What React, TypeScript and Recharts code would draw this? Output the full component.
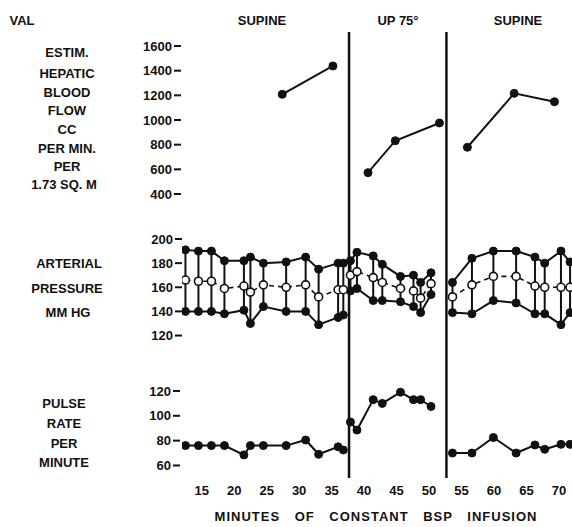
import { ComposedChart, Line, XAxis, YAxis, ReferenceLine, ErrorBar } from "recharts";

const FONT = '"Liberation Sans", Arial, sans-serif';
const INK = "#111";

// minutes of constant BSP infusion at each reading, one list per posture period
const supineMin = [12.5, 14.5, 16.5, 18.5, 21.5, 22.5, 24.5, 28, 31, 33, 36, 36.8];
const tiltMin = [37.9, 38.9, 41.4, 42.8, 45.6, 47.6, 48.7, 50.3];
const supine2Min = [53.6, 56.6, 59.9, 63.4, 66.3, 67.8, 70.3, 71.7];

// arterial pressure, mm Hg
const supineSys = [191, 190, 190, 182, 182, 185, 180, 181, 185, 175, 180, 180];
const supineMean = [166, 165, 165, 159, 161, 156, 162, 160, 162, 152, 158, 158];
const supineDia = [140, 140, 140, 138, 141, 130, 144, 140, 140, 129, 135, 137];
const tiltSys = [182, 189, 186, 179, 169, 170, 164, 172];
const tiltMean = [170, 173, 168, 164, 159, 157, 151, 163];
const tiltDia = [157, 159, 149, 149, 148, 144, 139, 154];
const supine2Sys = [164, 184, 190, 190, 185, 180, 190, 181];
const supine2Mean = [152, 162, 169, 169, 161, 160, 160, 160];
const supine2Dia = [139, 138, 149, 147, 138, 138, 129, 139];

// pulse rate per minute
const supinePulse = [76, 76, 76, 76, 68.5, 76, 76, 76, 80.5, 69, 75, 72.5];
const tiltPulse = [95, 88.5, 113, 110, 119, 113, 113, 107.5];
const supine2Pulse = [70, 70, 82.5, 70, 76.5, 73, 77, 77];

// estimated hepatic blood flow, cc per min per 1.73 sq. m
const flowMin1 = [27.4, 35.2];
const flow1 = [1208, 1438];
const flowMin2 = [40.6, 44.8, 51.6];
const flow2 = [573, 832, 976];
const flowMin3 = [55.9, 63.1, 69.3];
const flow3 = [779, 1216, 1148];

const tiltStart = 37.68;
const tiltEnd = 52.67;

const minuteTicks = [15, 20, 25, 30, 35, 40, 45, 50, 55, 60, 65, 70];
const flowTicks = [400, 600, 800, 1000, 1200, 1400, 1600];
const bpTicks = [120, 140, 160, 180, 200];
const pulseTicks = [60, 80, 100, 120];

const periodRows = (mins: number[], sys: number[], mean: number[], dia: number[], pulse: number[]) =>
  mins.map((t, i) => ({
    t,
    sys: sys[i],
    mean: mean[i],
    dia: dia[i],
    pulse: pulse[i],
    range: [mean[i] - dia[i], sys[i] - mean[i]],
  }));

const flowRows = (mins: number[], vals: number[]) => mins.map((t, i) => ({ t, flow: vals[i] }));

const periods = [
  periodRows(supineMin, supineSys, supineMean, supineDia, supinePulse),
  periodRows(tiltMin, tiltSys, tiltMean, tiltDia, tiltPulse),
  periodRows(supine2Min, supine2Sys, supine2Mean, supine2Dia, supine2Pulse),
];
const flows = [flowRows(flowMin1, flow1), flowRows(flowMin2, flow2), flowRows(flowMin3, flow3)];

const tickStyle = { fill: INK, fontSize: 13, fontWeight: 700, fontFamily: FONT };
const solidDot = { r: 4, fill: INK, stroke: INK, strokeWidth: 1 };

// open circle for mean pressure, drawn as its own element so it sits over the bar
const OpenDot = (p: { cx?: number; cy?: number; index?: number }) =>
  p.cx == null || p.cy == null ? null : (
    <circle key={p.index} cx={p.cx} cy={p.cy} r={4} fill="#fff" stroke={INK} strokeWidth={1.6} />
  );

const labels: [string, number, number][] = [
  ["VAL", 22, 20],
  ["SUPINE", 262, 20],
  ["UP 75°", 398, 20],
  ["SUPINE", 518, 20],
  ["ESTIM.", 67, 52],
  ["HEPATIC", 67, 73],
  ["BLOOD", 67, 92],
  ["FLOW", 67, 110],
  ["CC", 67, 129],
  ["PER MIN.", 67, 148],
  ["PER", 67, 166],
  ["1.73 SQ. M", 64, 184],
  ["ARTERIAL", 69, 263],
  ["PRESSURE", 67, 288],
  ["MM HG", 68, 312],
  ["PULSE", 64, 403],
  ["RATE", 64, 423],
  ["PER", 64, 443],
  ["MINUTE", 64, 462],
];

function yAxis(id: string, domain: [number, number], ticks: number[]) {
  return (
    <YAxis
      key={id}
      yAxisId={id}
      type="number"
      domain={domain}
      ticks={ticks}
      interval={0}
      allowDataOverflow
      width={1}
      axisLine={false}
      tickLine={{ stroke: INK, strokeWidth: 2 }}
      tickSize={7}
      tickMargin={2}
      tick={tickStyle}
    />
  );
}

function seriesLine(key: string, axis: string, rows: object[], dataKey: string) {
  return (
    <Line
      key={key}
      yAxisId={axis}
      data={rows}
      dataKey={dataKey}
      stroke={INK}
      strokeWidth={2}
      dot={solidDot}
      activeDot={false}
      isAnimationActive={false}
    />
  );
}

export default function App() {
  return (
    <div
      style={{
        position: "absolute",
        left: 0,
        top: 0,
        width: 572,
        height: 527,
        background: "#fff",
        fontFamily: FONT,
        color: INK,
      }}
    >
      <ComposedChart width={572} height={527} margin={{ top: 32, right: 0, bottom: 0, left: 179 }}>
        <XAxis
          dataKey="t"
          type="number"
          domain={[11.97, 72]}
          ticks={minuteTicks}
          interval={0}
          allowDataOverflow
          axisLine={false}
          tickLine={false}
          tickSize={6}
          tickMargin={2}
          height={49}
          tick={tickStyle}
        />
        {yAxis("flow", [-1902.7, 1713.5], flowTicks)}
        {yAxis("bp", [1.9, 371.6], bpTicks)}
        {yAxis("pulse", [49.9, 409.1], pulseTicks)}

        <ReferenceLine yAxisId="flow" x={tiltStart} stroke={INK} strokeWidth={2.5} />
        <ReferenceLine yAxisId="flow" x={tiltEnd} stroke={INK} strokeWidth={2.5} />

        {flows.map((rows, i) => seriesLine(`flow${i}`, "flow", rows, "flow"))}

        {/* systolic-to-diastolic bar at each reading */}
        {periods.map((rows, i) => (
          <Line
            key={`bar${i}`}
            yAxisId="bp"
            data={rows}
            dataKey="mean"
            stroke="none"
            dot={false}
            activeDot={false}
            isAnimationActive={false}
          >
            <ErrorBar dataKey="range" direction="y" width={0} stroke={INK} strokeWidth={2} />
          </Line>
        ))}

        {periods.map((rows, i) => seriesLine(`sys${i}`, "bp", rows, "sys"))}
        {periods.map((rows, i) => seriesLine(`dia${i}`, "bp", rows, "dia"))}
        {periods.map((rows, i) => (
          <Line
            key={`mean${i}`}
            yAxisId="bp"
            data={rows}
            dataKey="mean"
            stroke={INK}
            strokeWidth={1.6}
            strokeDasharray="5 4"
            dot={OpenDot}
            activeDot={false}
            isAnimationActive={false}
          />
        ))}

        {periods.map((rows, i) => seriesLine(`pulse${i}`, "pulse", rows, "pulse"))}
      </ComposedChart>

      {labels.map(([text, x, y], i) => (
        <div
          key={i}
          style={{
            position: "absolute",
            left: x,
            top: y,
            transform: "translate(-50%, -50%)",
            whiteSpace: "nowrap",
            fontSize: 13,
            fontWeight: 700,
            lineHeight: 1,
          }}
        >
          {text}
        </div>
      ))}
      <div
        style={{
          position: "absolute",
          left: 376,
          top: 516,
          transform: "translate(-50%, -50%)",
          whiteSpace: "nowrap",
          fontSize: 13,
          fontWeight: 700,
          letterSpacing: 1,
          wordSpacing: 10,
          lineHeight: 1,
        }}
      >
        MINUTES OF CONSTANT BSP INFUSION
      </div>
    </div>
  );
}
